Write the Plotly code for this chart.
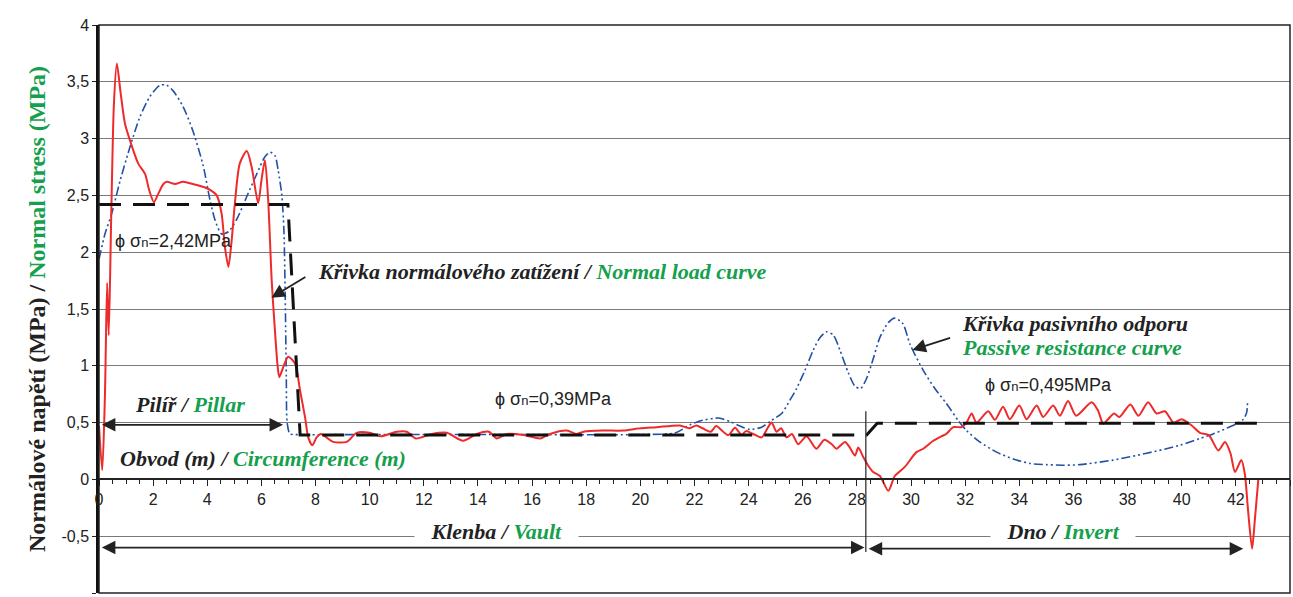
import plotly.graph_objects as go

GREEN = "#14a04c"
SERIF = "Liberation Serif"
SANS = "Liberation Sans"

# Normal load curve (red)
red_x = [0, 0.12, 0.22, 0.3, 0.36, 0.45, 0.55, 0.66, 0.8, 0.96, 1.15, 1.45, 1.7, 1.85, 2.03, 2.2, 2.38,
         2.51, 2.81, 3.1, 3.47, 3.92, 4.16, 4.35, 4.53, 4.65, 4.78, 4.9, 5.02, 5.2, 5.46, 5.64, 5.88,
         6.0, 6.13, 6.25, 6.38, 6.5, 6.59, 6.66, 6.81, 6.99, 7.24, 7.43, 7.61, 7.73, 7.88, 8.04, 8.2,
         8.4, 8.65, 9.15, 9.52, 10.0, 10.4, 11.0, 11.37, 11.7, 12.3, 12.85, 13.45, 13.95, 14.4, 14.7,
         15.06, 15.7, 16.3, 16.66, 17.28, 17.65, 17.9, 18.6, 19.37, 20.0, 20.6, 21.46, 21.8, 22.07,
         22.3, 22.6, 22.8, 23.06, 23.25, 23.5, 23.74, 23.9, 24.17, 24.48, 24.72, 24.85, 25.03, 25.2,
         25.4, 25.6, 25.83, 26.14, 26.5, 26.8, 27.07, 27.25, 27.56, 27.74, 27.93, 28.05, 28.23, 28.42,
         28.6, 28.85, 29.16, 29.4, 29.77, 30.2, 30.45, 30.82, 31.13, 31.3, 31.56, 31.87, 32.05, 32.24,
         32.42, 32.85, 33.1, 33.4, 33.65, 34.0, 34.27, 34.64, 34.88, 35.25, 35.5, 35.8, 36.1, 36.67,
         36.9, 37.1, 37.28, 37.5, 37.7, 38.1, 38.4, 38.76, 39.07, 39.38, 39.7, 40.0, 40.37, 40.67,
         41.0, 41.35, 41.6, 41.8, 41.97, 42.2, 42.33, 42.45, 42.6, 42.7, 42.83]
red_y = [0.47, 0.08, 0.75, 1.73, 1.27, 2.3, 3.3, 3.66, 3.4, 3.13, 2.98, 2.78, 2.69, 2.55, 2.44, 2.52, 2.6,
         2.62, 2.6, 2.62, 2.6, 2.57, 2.54, 2.5, 2.34, 2.05, 1.87, 2.1, 2.43, 2.78, 2.89, 2.75, 2.43,
         2.63, 2.81, 2.46, 1.75, 1.31, 1.02, 0.9, 0.99, 1.08, 1.02, 0.78, 0.55, 0.37, 0.3, 0.37, 0.4,
         0.37, 0.33, 0.33, 0.41, 0.41, 0.38, 0.42, 0.42, 0.36, 0.4, 0.41, 0.34, 0.4, 0.42, 0.36,
         0.4, 0.39, 0.36, 0.4, 0.43, 0.4, 0.42, 0.43, 0.43, 0.45, 0.46, 0.475, 0.45, 0.475,
         0.45, 0.42, 0.47, 0.42, 0.39, 0.455, 0.39, 0.425, 0.4, 0.37, 0.46, 0.5, 0.42, 0.45,
         0.37, 0.4, 0.31, 0.38, 0.27, 0.35, 0.31, 0.27, 0.33, 0.28, 0.21, 0.28, 0.2, 0.12,
         0.065, 0.03, -0.1, 0.03, 0.11, 0.24, 0.27, 0.34, 0.38, 0.4, 0.46, 0.46, 0.5, 0.58,
         0.5, 0.6, 0.525, 0.64, 0.53, 0.65, 0.53, 0.65, 0.55, 0.65, 0.56, 0.69, 0.56, 0.68,
         0.61, 0.49, 0.53, 0.58, 0.55, 0.66, 0.56, 0.68, 0.58, 0.6, 0.5, 0.53, 0.475, 0.41,
         0.39, 0.255, 0.33, 0.23, 0.065, 0.17, 0.05, -0.27, -0.61, -0.36, 0.0]

# Passive resistance curve (blue)
blue_x = [0, 0.22, 0.47, 0.78, 1.15, 1.51, 1.88, 2.25, 2.5, 2.74, 3.11, 3.48, 3.85, 4.1, 4.29, 4.53,
          4.78, 5.09, 5.46, 5.83, 6.13, 6.32, 6.5, 6.62, 6.75, 6.83, 6.88, 6.92, 6.95, 7.05, 7.2,
          10.0, 15.0, 20.0, 21.3, 21.83, 22.3, 22.9, 23.3, 23.68, 24.05, 24.48, 24.85, 25.22, 25.53,
          25.77, 26.08, 26.39, 26.64, 26.88, 27.13, 27.37, 27.68, 27.93, 28.14, 28.36, 28.6, 28.85,
          29.16, 29.4, 29.7, 29.96, 30.45, 30.88, 31.3, 31.74, 32.05, 32.54, 33.16, 33.78, 34.4,
          35.0, 35.6, 36.24, 37.47, 38.7, 39.93, 40.67, 41.16, 41.66, 42.03, 42.28, 42.4, 42.43]
blue_y = [1.94, 2.16, 2.34, 2.63, 2.93, 3.19, 3.37, 3.47, 3.47, 3.42, 3.28, 3.06, 2.76, 2.46, 2.28, 2.16,
          2.18, 2.29, 2.49, 2.69, 2.84, 2.88, 2.85, 2.72, 2.51, 2.2, 1.6, 0.9, 0.5, 0.4, 0.395,
          0.395, 0.395, 0.395, 0.41, 0.48, 0.52, 0.54, 0.51, 0.47, 0.44, 0.46, 0.52, 0.58, 0.7,
          0.8, 0.96, 1.14, 1.25, 1.3, 1.27, 1.14, 0.94, 0.82, 0.8, 0.89, 1.06, 1.25,
          1.38, 1.42, 1.37, 1.19, 0.96, 0.8, 0.67, 0.52, 0.43, 0.33, 0.24, 0.18, 0.14,
          0.13, 0.125, 0.13, 0.17, 0.23, 0.3, 0.36, 0.4, 0.45, 0.49, 0.53, 0.59, 0.67]

# Average normal stress (black dashed)
avg_x = [0, 6.98, 7.43, 28.36, 28.75, 42.8]
avg_y = [2.42, 2.42, 0.39, 0.39, 0.495, 0.495]

y_ticks = [-1, -0.5, 0, 0.5, 1, 1.5, 2, 2.5, 3, 3.5, 4]
y_ticktext = ["-1", "-0,5", "0", "0,5", "1", "1,5", "2", "2,5", "3", "3,5", "4"]
x_ticks = list(range(0, 46, 2))
x_ticktext = [str(v) for v in x_ticks]

fig = go.Figure()
fig.add_trace(go.Scatter(x=blue_x, y=blue_y, mode="lines", hoverinfo="skip",
                         line=dict(color="#2150a6", width=1.6, dash="9px,3px,2px,3px,2px,3px",
                                   shape="spline", smoothing=0.7)))
fig.add_trace(go.Scatter(x=red_x, y=red_y, mode="lines", hoverinfo="skip",
                         line=dict(color="#ee2a2a", width=2, shape="spline", smoothing=0.7)))
fig.add_trace(go.Scatter(x=avg_x, y=avg_y, mode="lines", hoverinfo="skip",
                         line=dict(color="#111111", width=3, dash="22px,12px")))

# vertical separator vault / invert
fig.add_trace(go.Scatter(x=[28.33, 28.33], y=[0.6, -0.64], mode="lines", hoverinfo="skip",
                         line=dict(color="#222222", width=1.2)))

def label(x, y, black, green, size=22, xanchor="center", bg=None):
    txt = "<b><i>" + black + "<span style='color:%s'>%s</span></i></b>" % (GREEN, green)
    d = dict(x=x, y=y, xref="x", yref="y", text=txt, showarrow=False, xanchor=xanchor,
             yanchor="middle", font=dict(family=SERIF, size=size, color="#222222"))
    if bg:
        d.update(bgcolor=bg, borderpad=0)
    return d

def arrow(x0, y0, x1, y1, both=True):
    return dict(x=x1, y=y1, ax=x0, ay=y0, xref="x", yref="y", axref="x", ayref="y", text="",
                showarrow=True, arrowhead=2, arrowsize=1.5, arrowwidth=1.8, arrowcolor="#222222",
                arrowside="end+start" if both else "end", standoff=0, startstandoff=0)

def phi(x, y, val):
    return dict(x=x, y=y, xref="x", yref="y", xanchor="left", yanchor="middle", showarrow=False,
                text="ϕ σ<span style='font-size:13px'>n</span>=" + val + "MPa",
                font=dict(family=SANS, size=18, color="#222222"))

annotations = [
    label(3.36, 0.66, "Pilíř / ", "Pillar"),
    label(6.06, 0.185, "Obvod (m) / ", "Circumference (m)"),
    label(8.0, 1.83, "Křivka normálového zatížení / ", "Normal load curve", xanchor="left"),
    label(31.8, 1.37, "Křivka pasivního odporu", "", xanchor="left"),
    label(31.8, 1.16, "", "Passive resistance curve", xanchor="left"),
    label(14.7, -0.46, "&nbsp;&nbsp;&nbsp;Klenba / ", "Vault&nbsp;&nbsp;&nbsp;", bg="white"),
    label(35.6, -0.46, "&nbsp;&nbsp;&nbsp;Dno / ", "Invert&nbsp;&nbsp;&nbsp;", bg="white"),
    phi(0.5, 2.1, "2,42"),
    phi(14.55, 0.71, "0,39"),
    phi(32.65, 0.835, "0,495"),
    arrow(0.05, 0.48, 6.8, 0.48),
    arrow(0.05, -0.6, 28.28, -0.6),
    arrow(28.38, -0.61, 42.27, -0.61),
    arrow(7.68, 1.79, 6.37, 1.6, both=False),
    arrow(31.5, 1.25, 30.05, 1.14, both=False),
]

fig.update_layout(
    width=1293, height=597,
    margin=dict(l=99, r=3, t=25, b=4),
    plot_bgcolor="white", paper_bgcolor="white",
    showlegend=False,
    annotations=annotations,
    shapes=[dict(type="rect", xref="paper", yref="paper", x0=0, x1=1, y0=0, y1=1,
                 line=dict(color="#222222", width=1.5), layer="above")],
    xaxis=dict(range=[0, 44], anchor="free", position=0.2, tickvals=x_ticks, ticktext=x_ticktext,
               ticks="outside", ticklen=6, tickcolor="#222222", showline=True, linecolor="#222222",
               linewidth=1.5, showgrid=False, zeroline=False,
               minor=dict(dtick=0.5, ticks="outside", ticklen=4, tickcolor="#222222"),
               tickfont=dict(family=SANS, size=16, color="#222222")),
    yaxis=dict(range=[-1, 4], tickvals=y_ticks, ticktext=y_ticktext, showgrid=True,
               gridcolor="#7a7a7a", gridwidth=1, zeroline=False, showline=True,
               linecolor="#111111", linewidth=2.5, ticks="outside", ticklen=4, tickcolor="#222222",
               tickfont=dict(family=SANS, size=16, color="#222222"),
               title=dict(text="<b>Normálové napětí (MPa) / <span style='color:%s'>Normal stress (MPa)</span></b>" % GREEN,
                          font=dict(family=SERIF, size=24, color="#222222"), standoff=10)),
)

fig.write_html("out.html")
